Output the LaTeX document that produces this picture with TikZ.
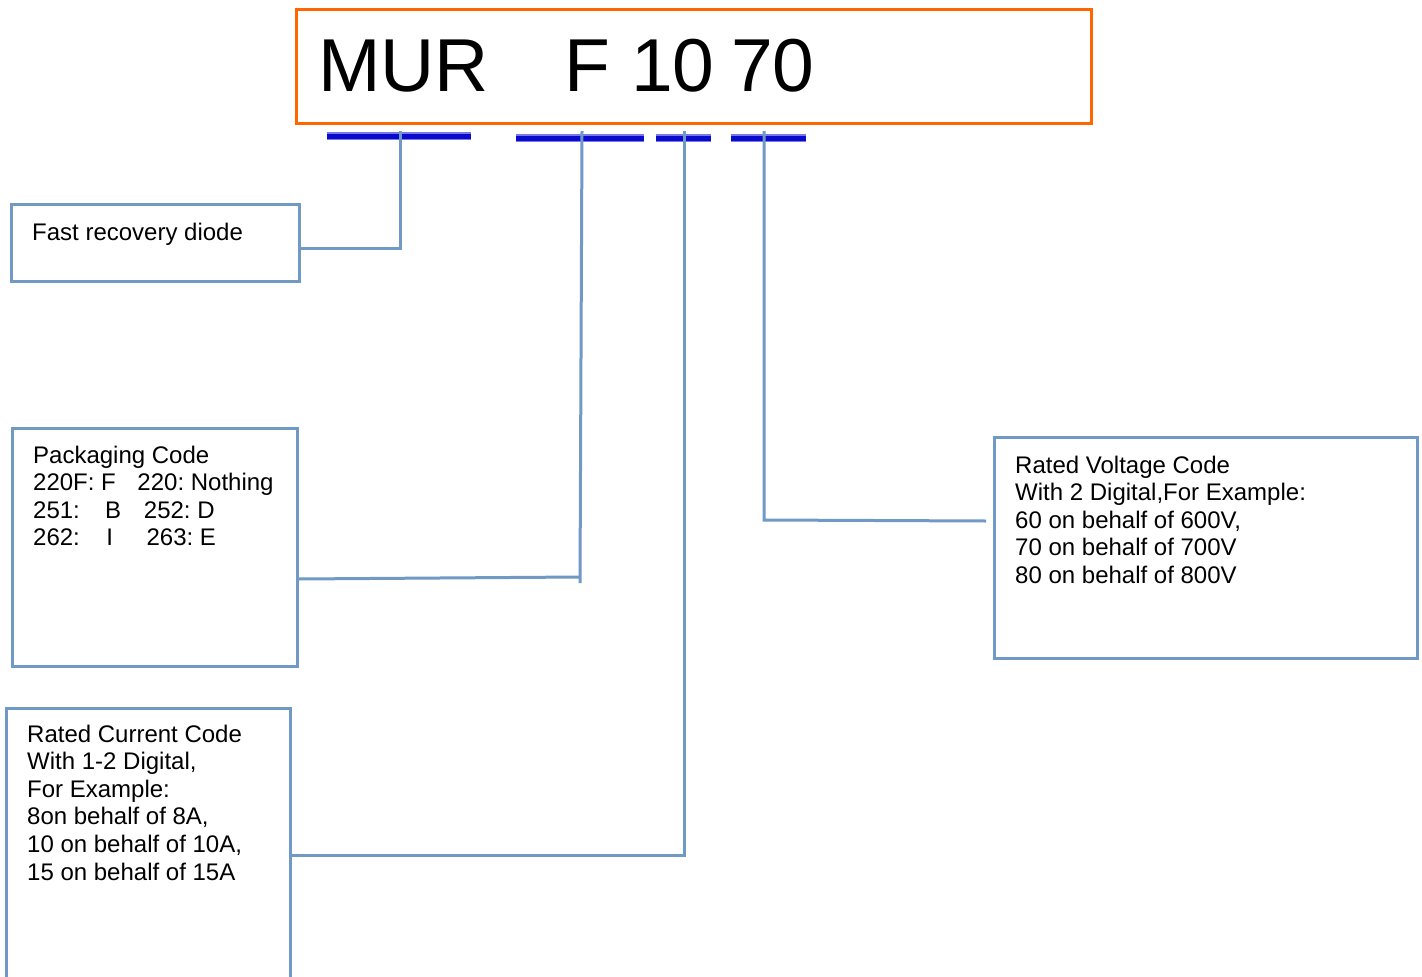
\documentclass[tikz,border=0pt]{standalone}
\usepackage{fontspec}
\setmainfont{Liberation Sans}
\frenchspacing
\begin{document}
\begin{tikzpicture}[x=1pt,y=-1pt,
  link/.style={draw=linkblue,line width=3pt},
  codebox/.style={draw=linkblue,line width=3pt,rectangle,inner sep=0pt,fill=none},
  boxtext/.style={anchor=north west,inner sep=0pt,align=left,font=\fontsize{24}{27.6}\selectfont},
  title/.style={anchor=base west,inner sep=0pt,font=\fontsize{75}{80}\selectfont},
  barlight/.style={draw=barlite,line width=8pt},
  barcore/.style={draw=barblue,line width=5pt}]
\definecolor{linkblue}{RGB}{112,153,198}
\definecolor{barblue}{RGB}{10,10,205}
\definecolor{barlite}{RGB}{120,120,230}
\definecolor{orangeframe}{RGB}{255,102,0}
\clip (0,0) rectangle (1422,977);
\fill[white] (0,0) rectangle (1422,977);

% title frame
\node[draw=orangeframe,line width=3pt,rectangle,inner sep=0pt,minimum width=795pt,minimum height=114pt] (frame) at (693.5,66) {};
\node[title] (tmur) at (318,91) {MUR};
\node[title] (tf) at (564,91) {F};
\node[title] (t10) at (631,91) {10};
\node[title] (t70) at (731,91) {70};

% bars
\coordinate (b1l) at (327,136); \coordinate (b1r) at (471,136);
\coordinate (b2l) at (516,138); \coordinate (b2r) at (644,138);
\coordinate (b3l) at (656,138); \coordinate (b3r) at (711,138);
\coordinate (b4l) at (731,138); \coordinate (b4r) at (806,138);
\draw[barlight] (b1l) -- (b1r);
\draw[barlight] (b2l) -- (b2r);
\draw[barlight] (b3l) -- (b3r);
\draw[barlight] (b4l) -- (b4r);
\draw[barcore] (b1l) -- (b1r);
\draw[barcore] (b2l) -- (b2r);
\draw[barcore] (b3l) -- (b3r);
\draw[barcore] (b4l) -- (b4r);

% boxes
\node[codebox,minimum width=288pt,minimum height=77pt] (box1) at (155,242.5) {};
\node[boxtext] (txt1) at (32,222.5) {Fast recovery diode};

\node[codebox,minimum width=285pt,minimum height=238pt] (box2) at (154.5,547) {};
\node[boxtext] (txt2) at (33,445.5) {Packaging Code\\220F: F\hspace{0.9em}220: Nothing\\251:\hspace{1.05em}B\hspace{0.95em}252: D\\262:\hspace{1.1em}I\hspace{1.4em}263: E};

\node[codebox,minimum width=284pt,minimum height=300pt] (box3) at (148,858) {};
\node[boxtext] (txt3) at (27,724.5) {Rated Current Code\\With 1-2 Digital,\\For Example:\\8on behalf of 8A,\\10 on behalf of 10A,\\15 on behalf of 15A};

\node[codebox,minimum width=423pt,minimum height=221pt] (box4) at (1205.5,547.5) {};
\node[boxtext] (txt4) at (1015,455.5) {Rated Voltage Code\\With 2 Digital,For Example:\\60 on behalf of 600V,\\70 on behalf of 700V\\80 on behalf of 800V};

% connectors
\coordinate (c1top) at (400,131);
\coordinate (c1) at (400,248);
\draw[link] (c1top) -- (c1) -- (c1 -| box1.east);

\coordinate (c2top) at (582,131);
\coordinate (c2bot) at (580,583);
\coordinate (c2) at (580,577);
\draw[link] (c2top) -- (c2bot);
\draw[link] (c2) -- (box2.east |- 0,579);

\coordinate (c3top) at (684,131);
\coordinate (c3) at (684,855);
\draw[link] (c3top) -- (c3) -- (c3 -| box3.east);

\coordinate (c4top) at (764,131);
\coordinate (c4) at (764,520);
\coordinate (c4end) at (986,521);
\draw[link] (c4top) -- (c4) -- (c4end);
\end{tikzpicture}
\end{document}
